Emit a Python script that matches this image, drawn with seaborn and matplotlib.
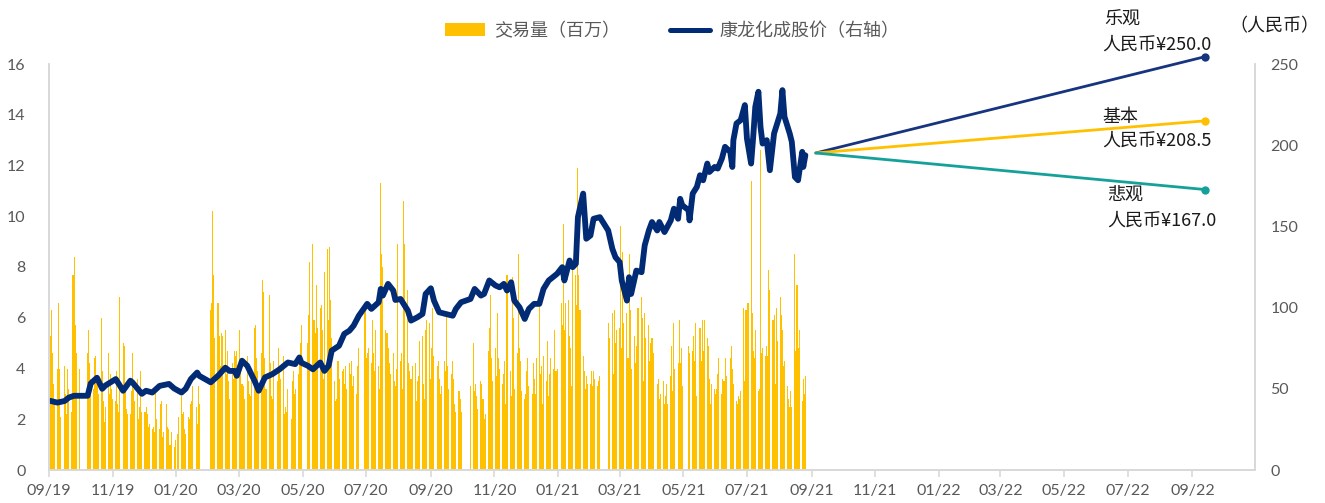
import numpy as np
import pandas as pd
import matplotlib
matplotlib.use("Agg")
import matplotlib.pyplot as plt
import matplotlib.dates as mdates
from matplotlib.patches import Patch
from matplotlib.lines import Line2D
import seaborn as sns

# ---------------- data ----------------
months = pd.period_range("2019-09", "2021-08", freq="M").astype(str).tolist()

holidays = ["2019-09-13", "2019-10-01", "2019-10-02", "2019-10-03", "2019-10-04", "2019-10-07",
            "2020-01-01", "2020-01-24", "2020-01-27", "2020-01-28", "2020-01-29", "2020-01-30",
            "2020-01-31", "2020-04-06", "2020-05-01", "2020-05-04", "2020-05-05", "2020-06-25",
            "2020-06-26", "2020-10-01", "2020-10-02", "2020-10-05", "2020-10-06", "2020-10-07",
            "2020-10-08", "2021-01-01", "2021-02-11", "2021-02-12", "2021-02-15", "2021-02-16",
            "2021-02-17", "2021-04-05", "2021-05-03", "2021-05-04", "2021-05-05", "2021-06-14"]

# daily trading volume (millions), one list per month
vol_2019_09 = [5.3, 6.3, 4.6, 3.4, 2.8, 4.0, 6.6, 4.0, 2.1, 4.1, 3.0, 2.2, 4.0, 3.2, 2.3, 7.7, 8.4, 5.7, 4.6, 4.0]
vol_2019_10 = [4.6, 5.5, 4.2, 3.6, 3.2, 4.4, 4.5, 3.7, 3.0, 6.0, 3.9, 2.7, 1.9, 2.5, 4.6, 3.0, 3.8, 3.2]
vol_2019_11 = [2.8, 2.7, 3.9, 2.6, 2.3, 6.8, 5.0, 4.9, 3.2, 2.4, 2.2, 2.2, 3.1, 4.6, 3.2, 2.7, 3.6, 2.0, 2.5, 3.9, 2.3]
vol_2019_12 = [2.3, 2.5, 2.2, 1.7, 1.8, 1.6, 1.7, 1.5, 3.1, 2.0, 1.6, 2.6, 2.7, 1.3, 1.5, 2.6, 1.7, 1.6, 1.0, 1.5, 0.9, 1.2]
vol_2020_01 = [1.4, 2.1, 2.9, 2.2, 2.3, 1.6, 1.4, 2.1, 2.0, 2.6, 2.7, 3.3, 2.5, 1.8, 3.3, 2.6]
vol_2020_02 = [6.3, 6.6, 10.2, 7.7, 5.2, 6.6, 5.3, 4.1, 5.4, 5.3, 5.5, 3.8, 4.7, 3.5, 2.8, 4.2, 3.6, 4.7, 4.5, 4.7]
vol_2020_03 = [5.5, 4.3, 3.4, 3.3, 2.8, 4.5, 3.5, 3.0, 2.9, 3.6, 5.6, 5.7, 4.4, 3.9, 3.3, 4.6, 7.5, 7.0, 4.4, 3.2, 6.9, 4.2]
vol_2020_04 = [2.9, 2.8, 4.3, 3.5, 4.8, 4.0, 3.6, 4.5, 2.2, 2.5, 2.3, 3.2, 2.0, 3.5, 3.9, 3.0, 3.2, 3.8, 4.5, 5.0, 5.7]
vol_2020_05 = [5.0, 6.1, 8.2, 8.9, 5.9, 5.4, 7.3, 5.6, 6.4, 6.5, 5.5, 3.6, 7.8, 8.7, 5.9, 8.8, 6.7, 5.2]
vol_2020_06 = [3.5, 2.7, 2.8, 4.3, 3.6, 3.9, 4.0, 3.4, 4.1, 3.2, 4.2, 3.8, 4.3, 3.3, 3.7, 3.0, 4.1, 4.8, 6.2, 6.6]
vol_2020_07 = [4.4, 4.6, 4.8, 4.2, 5.9, 4.6, 3.9, 5.5, 4.1, 3.2, 11.3, 8.5, 8.0, 5.5, 5.4, 4.8, 4.2, 3.8, 4.6, 3.5, 3.3, 4.0, 8.9]
vol_2020_08 = [4.3, 4.6, 3.2, 10.6, 8.9, 7.1, 4.2, 3.9, 3.6, 4.1, 4.2, 2.7, 3.5, 3.7, 5.1, 5.3, 3.4, 2.8, 5.5, 5.9, 5.8]
vol_2020_09 = [3.6, 4.8, 6.4, 4.5, 4.1, 4.3, 3.6, 3.0, 3.3, 4.3, 3.9, 6.2, 4.1, 3.2, 3.8, 4.3, 3.6, 2.6, 2.3, 3.1, 2.8, 2.3]
vol_2020_10 = [3.3, 5.0, 3.1, 3.4, 2.9, 2.4, 3.5, 3.4, 2.8, 2.0, 2.2, 4.7, 5.6, 6.9, 4.4, 3.5]
vol_2020_11 = [4.8, 3.7, 6.2, 4.4, 4.0, 3.4, 3.8, 4.3, 2.6, 7.7, 3.9, 2.9, 7.6, 6.0, 3.2, 4.6, 8.5, 4.8, 4.3, 3.1, 2.8]
vol_2020_12 = [3.0, 3.9, 4.4, 3.3, 3.0, 4.2, 3.6, 3.0, 4.4, 6.7, 3.8, 4.1, 2.6, 4.5, 3.5, 5.1, 2.9, 3.8, 4.4, 4.0, 5.5, 3.9, 4.0]
vol_2021_01 = [6.6, 5.7, 9.7, 5.5, 6.6, 6.7, 5.3, 4.8, 3.3, 8.0, 7.7, 6.5, 11.9, 7.7, 6.3, 4.5, 3.9, 3.2, 3.7, 3.4]
vol_2021_02 = [3.4, 3.9, 3.3, 3.9, 3.6, 3.3, 3.5, 3.7, 5.8, 5.2, 6.2, 3.8, 6.3, 5.0, 5.5]
vol_2021_03 = [5.6, 9.6, 4.8, 8.6, 5.8, 6.2, 4.4, 8.5, 6.3, 4.0, 5.3, 4.2, 4.9, 6.4, 6.4, 6.8, 6.0, 3.5, 6.2, 5.2, 5.7, 4.3, 5.0]
vol_2021_04 = [5.2, 4.6, 3.4, 3.6, 2.8, 3.0, 3.5, 2.6, 2.9, 3.4, 2.6, 3.7, 4.9, 3.1, 5.8, 4.0, 4.2, 5.9, 4.2, 4.8, 3.3]
vol_2021_05 = [4.9, 4.6, 4.7, 5.3, 4.3, 5.8, 2.9, 5.6, 4.3, 5.9, 4.7, 5.9, 5.2, 4.9, 3.6, 2.6, 3.4, 3.2]
vol_2021_06 = [3.0, 3.2, 3.8, 4.4, 3.0, 3.6, 3.5, 4.4, 3.7, 4.4, 4.9, 4.0, 3.4, 2.7, 2.6, 2.9, 2.8, 3.1, 6.4, 3.5, 6.3]
vol_2021_07 = [6.3, 6.6, 11.4, 6.2, 4.7, 4.4, 5.5, 3.1, 3.2, 12.6, 4.6, 4.8, 4.5, 4.9, 4.5, 7.9, 7.1, 5.9, 6.1, 3.4, 6.4, 5.1]
vol_2021_08 = [6.8, 6.1, 5.5, 4.1, 4.3, 3.3, 2.8, 2.5, 3.1, 2.5, 8.5, 4.7, 7.3, 4.8, 5.5, 2.7, 3.6, 3.0, 3.7]

volume_months = [vol_2019_09, vol_2019_10, vol_2019_11, vol_2019_12, vol_2020_01, vol_2020_02,
                 vol_2020_03, vol_2020_04, vol_2020_05, vol_2020_06, vol_2020_07, vol_2020_08,
                 vol_2020_09, vol_2020_10, vol_2020_11, vol_2020_12, vol_2021_01, vol_2021_02,
                 vol_2021_03, vol_2021_04, vol_2021_05, vol_2021_06, vol_2021_07, vol_2021_08]

# share price (RMB)
price_dates = [
    "2019-09-02", "2019-09-09", "2019-09-16", "2019-09-20", "2019-09-25", "2019-09-30", "2019-10-08",
    "2019-10-11", "2019-10-17", "2019-10-22", "2019-10-25", "2019-11-04", "2019-11-11", "2019-11-18",
    "2019-11-20", "2019-11-29", "2019-12-03", "2019-12-09", "2019-12-16", "2019-12-25", "2019-12-30",
    "2020-01-06", "2020-01-10", "2020-01-15", "2020-01-21", "2020-01-23", "2020-02-03", "2020-02-10",
    "2020-02-17", "2020-02-21", "2020-02-26", "2020-02-28", "2020-03-04", "2020-03-09", "2020-03-16",
    "2020-03-20", "2020-03-26", "2020-04-02", "2020-04-09", "2020-04-17", "2020-04-24", "2020-04-28",
    "2020-04-30", "2020-05-06", "2020-05-11", "2020-05-18", "2020-05-22", "2020-05-26", "2020-05-29",
    "2020-06-05", "2020-06-10", "2020-06-15", "2020-06-19", "2020-06-24", "2020-07-02", "2020-07-06",
    "2020-07-13", "2020-07-15", "2020-07-17", "2020-07-22", "2020-07-27", "2020-07-29", "2020-08-03",
    "2020-08-10", "2020-08-13", "2020-08-19", "2020-08-24", "2020-08-27", "2020-09-01", "2020-09-04",
    "2020-09-09", "2020-09-15", "2020-09-22", "2020-09-25", "2020-09-30", "2020-10-09", "2020-10-13",
    "2020-10-19", "2020-10-22", "2020-10-27", "2020-11-02", "2020-11-06", "2020-11-10", "2020-11-13",
    "2020-11-17", "2020-11-20", "2020-11-25", "2020-11-30", "2020-12-04", "2020-12-09", "2020-12-14",
    "2020-12-18", "2020-12-23", "2020-12-31", "2021-01-05", "2021-01-07", "2021-01-12", "2021-01-15",
    "2021-01-18", "2021-01-20", "2021-01-25", "2021-01-28", "2021-02-01", "2021-02-04", "2021-02-10",
    "2021-02-18", "2021-02-22", "2021-02-25", "2021-03-01", "2021-03-03", "2021-03-08", "2021-03-10",
    "2021-03-12", "2021-03-17", "2021-03-22", "2021-03-25", "2021-03-29", "2021-04-01", "2021-04-06",
    "2021-04-08", "2021-04-13", "2021-04-19", "2021-04-22", "2021-04-26", "2021-04-28", "2021-04-30",
    "2021-05-06", "2021-05-07", "2021-05-10", "2021-05-14", "2021-05-17", "2021-05-20", "2021-05-24",
    "2021-05-26", "2021-05-31", "2021-06-03", "2021-06-07", "2021-06-10", "2021-06-15", "2021-06-17",
    "2021-06-18", "2021-06-21", "2021-06-25", "2021-06-29", "2021-07-01", "2021-07-05", "2021-07-07",
    "2021-07-09", "2021-07-12", "2021-07-14", "2021-07-16", "2021-07-20", "2021-07-23", "2021-07-27",
    "2021-07-29", "2021-08-02", "2021-08-04", "2021-08-06", "2021-08-11", "2021-08-13", "2021-08-16",
    "2021-08-19", "2021-08-23", "2021-08-24", "2021-08-26"]
price_values = [
    42.6, 41.5, 42.5, 44.6, 45.7, 45.7, 45.7,
    53.3, 56.8, 50.0, 52.0, 56.0, 48.8, 55.0,
    53.9, 46.9, 48.8, 47.7, 51.8, 53.0, 50.2,
    47.7, 50.0, 56.0, 60.0, 58.0, 54.0, 58.0,
    63.0, 61.0, 61.0, 58.0, 67.3, 64.2, 55.0,
    48.8, 57.0, 59.0, 62.0, 66.2, 65.2, 69.3,
    66.0, 64.2, 62.0, 66.2, 61.0, 64.2, 73.5,
    76.5, 83.8, 85.8, 88.9, 95.0, 102.3, 99.2,
    103.3, 111.5, 107.4, 114.6, 110.5, 104.7, 105.3,
    98.1, 92.0, 94.0, 96.1, 108.4, 111.9, 104.3,
    97.1, 96.1, 95.0, 99.2, 103.3, 105.3, 111.5,
    107.4, 108.4, 116.7, 113.6, 112.5, 114.6, 110.5,
    115.6, 104.3, 100.2, 93.0, 99.2, 102.3, 102.3,
    111.5, 116.7, 120.8, 124.9, 116.7, 129.0, 124.9,
    127.0, 155.7, 170.2, 142.4, 144.4, 154.7, 155.7,
    147.5, 136.2, 131.0, 128.0, 116.7, 104.3, 118.7,
    108.4, 122.8, 121.8, 138.3, 147.5, 152.7, 147.5,
    152.7, 146.5, 153.7, 160.9, 154.7, 167.0, 163.0,
    160.0, 153.7, 170.2, 174.3, 181.5, 178.4, 188.7,
    183.5, 186.6, 185.6, 191.8, 199.0, 195.9, 186.6,
    203.1, 213.4, 215.4, 224.7, 204.1, 188.7, 205.1,
    223.6, 232.9, 211.3, 201.0, 203.1, 184.6, 207.2,
    211.3, 219.5, 233.9, 217.5, 207.2, 202.1, 180.4,
    178.4, 195.9, 186.6, 193.8]

# target price scenarios
scenario_names = ["乐观", "基本", "悲观"]
scenario_targets = [250.0, 208.5, 167.0]          # labelled targets
scenario_end_values = [254.5, 215.0, 172.7]       # plotted end points
scenario_start_value = 195.2
scenario_start_date = "2021-09-05"
scenario_end_date = "2022-09-13"
scenario_colors = ["#17347E", "#FFC000", "#14A19A"]

# ---------------- build series ----------------
hol = pd.to_datetime(holidays)
vol_dates, vol_vals = [], []
for m, vals in zip(months, volume_months):
    p = pd.Period(m, freq="M")
    days = pd.bdate_range(p.start_time, p.end_time.normalize())
    days = days[~days.isin(hol)]
    n = min(len(days), len(vals))
    vol_dates.extend(days[:n])
    vol_vals.extend(vals[:n])
vol_df = pd.DataFrame({"date": pd.to_datetime(vol_dates), "volume": vol_vals})
price_df = pd.DataFrame({"date": pd.to_datetime(price_dates), "price": price_values})

# ---------------- plot ----------------
sns.set_theme(style="white")
plt.rcParams["font.family"] = ["Lato", "Noto Sans CJK SC", "DejaVu Sans"]
cjk = ["Noto Sans CJK SC", "DejaVu Sans"]
grey_txt = "#595959"
grey_line = "#D9D9D9"

W, H = 1325, 503
fig = plt.figure(figsize=(W / 100, H / 100), dpi=100)
ax = fig.add_axes([49 / W, 33 / H, (1255 - 49) / W, (470 - 64) / H])

ax.bar(vol_df["date"], vol_df["volume"], width=1.0, color="#FFC000", linewidth=0)
ax.set_ylim(0, 16)
ax.set_yticks(np.arange(0, 17, 2))

ax2 = ax.twinx()
sns.lineplot(data=price_df, x="date", y="price", ax=ax2, color="#012B74",
             linewidth=4.2, solid_joinstyle="round", solid_capstyle="round")
for end_v, col in zip(scenario_end_values, scenario_colors):
    sdf = pd.DataFrame({"date": pd.to_datetime([scenario_start_date, scenario_end_date]),
                        "price": [scenario_start_value, end_v]})
    sns.lineplot(data=sdf, x="date", y="price", ax=ax2, color=col, linewidth=2.0,
                 marker="o", markevery=[1], markersize=6, markeredgewidth=0, clip_on=False)
ax2.set_ylim(0, 250)
ax2.set_yticks(np.arange(0, 251, 50))
ax2.set_xlabel("")
ax2.set_ylabel("")
ax.set_ylabel("")
ax.set_xlabel("")

ax.set_xlim(pd.Timestamp("2019-09-01"), pd.Timestamp("2022-10-31"))
ax.set_xticks(pd.date_range("2019-09-01", "2022-09-01", freq="2MS"))
ax.xaxis.set_major_formatter(mdates.DateFormatter("%m/%y"))

for a in (ax, ax2):
    a.spines["top"].set_visible(False)
    for s in ("left", "right", "bottom"):
        a.spines[s].set_color(grey_line)
        a.spines[s].set_linewidth(1.3)
    a.grid(False)
ax.tick_params(axis="x", length=5, width=1.2, color=grey_line, labelcolor=grey_txt,
               labelsize=11.5, pad=5, bottom=True)
ax.tick_params(axis="y", length=0, labelcolor=grey_txt, labelsize=11.5, pad=17)
ax2.tick_params(axis="y", length=0, labelcolor=grey_txt, labelsize=11.5, pad=11)

# legend
handles = [Patch(facecolor="#FFC000", edgecolor="none"),
           Line2D([0], [0], color="#012B74", lw=3.6, solid_capstyle="round")]
fig.legend(handles, ["交易量（百万）", "康龙化成股价（右轴）"], loc="center",
           bbox_to_anchor=(672 / W, 1 - 31 / H), ncol=2, frameon=False,
           prop={"family": cjk, "size": 13}, labelcolor=grey_txt,
           handlelength=2.2, handleheight=0.7, columnspacing=2.8, handletextpad=0.5)

# scenario annotations
label_pos = [(1104, 20, 1102, 45), (1102, 117, 1102, 141), (1107, 195, 1107, 221)]
for name, tgt, (x1, y1, x2, y2) in zip(scenario_names, scenario_targets, label_pos):
    fig.text(x1 / W, 1 - y1 / H, name, ha="left", va="center", fontsize=13,
             family=cjk, color="#1A1A1A")
    fig.text(x2 / W, 1 - y2 / H, f"人民币¥{tgt:.1f}", ha="left", va="center",
             fontsize=13, family=cjk, color="#1A1A1A")
fig.text(1229 / W, 1 - 26 / H, "（人民币）", ha="left", va="center", fontsize=13,
         family=cjk, color="#1A1A1A")

fig.savefig("out.png", dpi=100)
